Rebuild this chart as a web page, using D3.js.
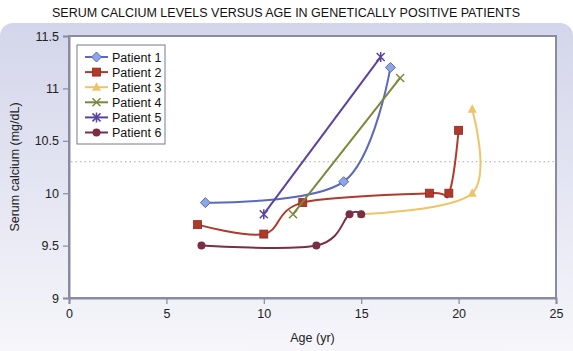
<!DOCTYPE html>
<html>
<head>
<meta charset="utf-8">
<script src="https://cdn.jsdelivr.net/npm/d3@7"></script>
<style>
	body { margin: 0; background: #fff; }
	svg { display: block; font-family: 'Liberation Sans', Arial, sans-serif; }
</style>
</head>
<body>
<svg width="573" height="351"></svg>
<script>
// values: [age, calcium]
var patient1 = [[7, 9.91], [14.1, 10.11], [16.5, 11.2]];
var patient2 = [[6.6, 9.7], [10, 9.61], [12, 9.91], [18.5, 10.0], [19.5, 10.0], [20, 10.6]];
var patient3 = [[15, 9.8], [20.7, 10.0], [20.7, 10.8]];
var patient4 = [[11.5, 9.8], [17, 11.1]];
var patient5 = [[10, 9.8], [16, 11.3]];
var patient6 = [[6.8, 9.5], [12.7, 9.5], [14.4, 9.8], [15, 9.8]];

var seriesNames = ['Patient 1', 'Patient 2', 'Patient 3', 'Patient 4', 'Patient 5', 'Patient 6'];
var xTicks = [0, 5, 10, 15, 20, 25];
var yTicks = [9, 9.5, 10, 10.5, 11, 11.5];
var normalLimit = 10.3;

var series = [
	{ name: seriesNames[0], data: patient1, color: '#5a68be', fill: '#8da6e2', marker: 'diamond' },
	{ name: seriesNames[1], data: patient2, color: '#b0392c', fill: '#b0392c', marker: 'square' },
	{ name: seriesNames[2], data: patient3, color: '#efc466', fill: '#efc466', marker: 'triangle' },
	{ name: seriesNames[3], data: patient4, color: '#7c873c', fill: '#7c873c', marker: 'x' },
	{ name: seriesNames[4], data: patient5, color: '#5a42a0', fill: '#5a42a0', marker: 'star' },
	{ name: seriesNames[5], data: patient6, color: '#7a2e44', fill: '#7a2e44', marker: 'circle' }
];

var svg = d3.select('svg'),
	margin = { top: 36, right: 17, bottom: 53, left: 69 },
	width = +svg.attr('width') - margin.left - margin.right,
	height = +svg.attr('height') - margin.top - margin.bottom;

// background panel
var defs = svg.append('defs');
var grad = defs.append('linearGradient')
	.attr('id', 'bg')
	.attr('x1', 0).attr('y1', 0).attr('x2', 0).attr('y2', 1);
grad.append('stop').attr('offset', '0%').attr('stop-color', '#d3d5ea');
grad.append('stop').attr('offset', '100%').attr('stop-color', '#f7f7fb');

svg.append('rect')
	.attr('x', 0).attr('y', 23)
	.attr('width', 573).attr('height', 340)
	.attr('rx', 13)
	.attr('fill', 'url(#bg)');

svg.append('text')
	.attr('x', 286)
	.attr('y', 17)
	.attr('text-anchor', 'middle')
	.style('font-size', '12.5px')
	.attr('fill', '#111')
	.text('SERUM CALCIUM LEVELS VERSUS AGE IN GENETICALLY POSITIVE PATIENTS');

var x = d3.scaleLinear().domain([0, 25]).range([0, width]),
	y = d3.scaleLinear().domain([9, 11.5]).range([height, 0]);

var g = svg.append('g')
	.attr('transform', 'translate(' + margin.left + ',' + margin.top + ')');

g.append('rect')
	.attr('width', width)
	.attr('height', height)
	.attr('fill', '#fff')
	.attr('stroke', '#8a8aa0')
	.attr('stroke-width', 2);

// x axis
var xAxis = g.append('g')
	.attr('transform', 'translate(0,' + height + ')')
	.call(d3.axisBottom(x).tickValues(xTicks).tickSize(6).tickPadding(5));
// y axis
var yAxis = g.append('g')
	.call(d3.axisLeft(y).tickValues(yTicks).tickSize(6).tickPadding(4).tickFormat(d3.format('')));

[xAxis, yAxis].forEach(function(a) {
	a.select('.domain').attr('stroke', '#8a8aa0').attr('stroke-width', 2);
	a.selectAll('.tick line').attr('stroke', '#8a8aa0').attr('stroke-width', 1.2);
	a.selectAll('.tick text')
		.attr('fill', '#222')
		.style('font-size', '12.5px')
		.style('font-family', "'Liberation Sans', Arial, sans-serif");
});

svg.append('text')
	.attr('x', margin.left + width / 2)
	.attr('y', 342)
	.attr('text-anchor', 'middle')
	.style('font-size', '12.5px')
	.attr('fill', '#222')
	.text('Age (yr)');

svg.append('text')
	.attr('transform', 'translate(19,' + (margin.top + height / 2) + ') rotate(-90)')
	.attr('text-anchor', 'middle')
	.style('font-size', '12.5px')
	.attr('fill', '#222')
	.text('Serum calcium (mg/dL)');

// normal upper limit
g.append('line')
	.attr('x1', 2).attr('x2', width - 2)
	.attr('y1', y(normalLimit)).attr('y2', y(normalLimit))
	.attr('stroke', '#aaa')
	.attr('stroke-width', 1.2)
	.attr('stroke-dasharray', '1.5,3');

var line = d3.line()
	.x(function(d) { return x(d[0]); })
	.y(function(d) { return y(d[1]); })
	.curve(d3.curveCardinal.tension(0));

function drawMarker(sel, s, cx, cy) {
	var m = sel.append('g').attr('transform', 'translate(' + cx + ',' + cy + ')');
	if (s.marker === 'diamond') {
		m.append('path').attr('d', 'M0,-5L5,0L0,5L-5,0Z')
			.attr('fill', s.fill).attr('stroke', s.color).attr('stroke-width', 1);
	} else if (s.marker === 'square') {
		m.append('rect').attr('x', -4).attr('y', -4).attr('width', 8).attr('height', 8)
			.attr('fill', s.fill).attr('stroke', '#8a2a20').attr('stroke-width', 0.8);
	} else if (s.marker === 'triangle') {
		m.append('path').attr('d', 'M0,-5L4.5,3.5L-4.5,3.5Z').attr('fill', s.fill);
	} else if (s.marker === 'x') {
		m.append('path').attr('d', 'M-4,-4L4,4M-4,4L4,-4')
			.attr('stroke', s.color).attr('stroke-width', 1.5);
	} else if (s.marker === 'star') {
		m.append('path').attr('d', 'M-4,-4L4,4M-4,4L4,-4M0,-5L0,5')
			.attr('stroke', s.color).attr('stroke-width', 1.5);
	} else {
		m.append('circle').attr('r', 4).attr('fill', s.fill);
	}
}

// series in order, so patient 6 sits over the start of patient 3
series.forEach(function(s) {
	var sg = g.append('g');
	sg.append('path')
		.datum(s.data)
		.attr('d', line)
		.attr('fill', 'none')
		.attr('stroke', s.color)
		.attr('stroke-width', 2);
	s.data.forEach(function(d) {
		drawMarker(sg, s, x(d[0]), y(d[1]));
	});
});

// legend
var legend = svg.append('g').attr('transform', 'translate(77,45)');
legend.append('rect')
	.attr('width', 88).attr('height', 99)
	.attr('fill', '#fff')
	.attr('stroke', '#7a7a8a')
	.attr('stroke-width', 1);

series.forEach(function(s, i) {
	var ly = 12 + i * 15.1;
	legend.append('line')
		.attr('x1', 8).attr('x2', 31)
		.attr('y1', ly).attr('y2', ly)
		.attr('stroke', s.color).attr('stroke-width', 2);
	drawMarker(legend, s, 19.5, ly);
	legend.append('text')
		.attr('x', 35).attr('y', ly + 4.5)
		.style('font-size', '12.5px')
		.attr('fill', '#111')
		.text(s.name);
});
</script>
</body>
</html>
